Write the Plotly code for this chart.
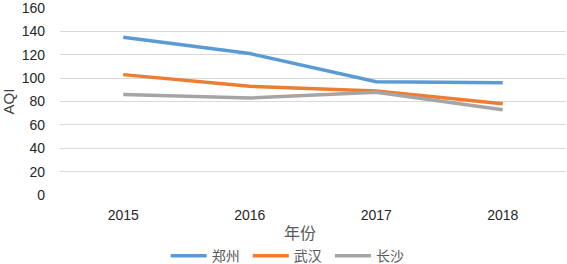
import plotly.graph_objects as go

years = ["2015", "2016", "2017", "2018"]
zhengzhou = [135, 121, 97, 96]
wuhan = [103, 93, 89, 78]
changsha = [86, 83, 88, 73]
series_names = ["郑州", "武汉", "长沙"]
colors = ["#5B9BD5", "#ED7D31", "#A5A5A5"]

fig = go.Figure()
for name, vals, c in zip(series_names, [zhengzhou, wuhan, changsha], colors):
    fig.add_trace(go.Scatter(x=years, y=vals, mode="lines", name=name + " ",
                             line=dict(color=c, width=3.5)))

font_fam = "Liberation Sans, Noto Sans CJK SC, sans-serif"
fig.update_layout(
    width=567, height=264,
    margin=dict(l=60, r=1, t=8, b=69, autoexpand=False),
    paper_bgcolor="white", plot_bgcolor="white",
    font=dict(family=font_fam, size=14, color="#404040"),
    showlegend=True,
    legend=dict(orientation="h", x=0.51, xref="container", xanchor="center",
                y=0.03, yref="container", yanchor="middle",
                font=dict(family="Noto Sans CJK SC, sans-serif", size=14, color="#595959"),
                itemwidth=36, tracegroupgap=0, bgcolor="rgba(0,0,0,0)"),
    xaxis=dict(type="category", range=[-0.5, 3.5], showgrid=False, showline=False,
               ticks="", zeroline=False, ticklabelstandoff=10,
               tickfont=dict(size=14, color="#262626")),
    yaxis=dict(range=[0, 160], dtick=20, showgrid=True, gridcolor="#D9D9D9", gridwidth=1,
               zeroline=False, showline=False, ticks="", ticklabelstandoff=14,
               ticklabeloverflow="allow",
               tickfont=dict(size=14, color="#262626"),
               title=dict(text="AQI", font=dict(size=15, color="#404040"), standoff=4)),
    annotations=[dict(text="年份", x=0.475, y=-0.2, xref="paper", yref="paper",
                      xanchor="center", yanchor="middle", showarrow=False,
                      font=dict(family="Noto Sans CJK SC, sans-serif", size=16, color="#595959"))],
)
fig.write_html("out.html", config={"displayModeBar": False},
               post_script="document.body.style.margin='0px';")
